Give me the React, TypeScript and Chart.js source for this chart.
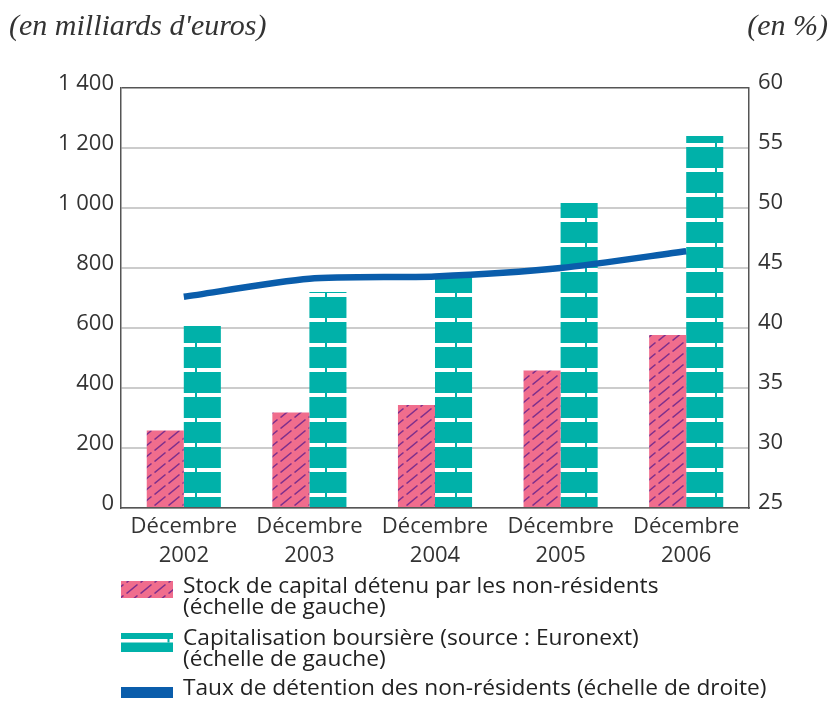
import React, { useEffect, useRef } from "react";
import { Chart, registerables } from "chart.js";

Chart.register(...registerables);

const categories: string[][] = [
  ["Décembre", "2002"],
  ["Décembre", "2003"],
  ["Décembre", "2004"],
  ["Décembre", "2005"],
  ["Décembre", "2006"],
];
const stockNonResidents: number[] = [258, 318, 343, 458, 577];
const capitalisation: number[] = [607, 720, 773, 1017, 1240];
const tauxDetention: number[] = [42.6, 44.1, 44.3, 45.0, 46.4];

const leftTicks = { min: 0, max: 1400, step: 200 };
const rightTicks = { min: 25, max: 60, step: 5 };

const legendLabels: string[][] = [
  ["Stock de capital détenu par les non-résidents", "(échelle de gauche)"],
  ["Capitalisation boursière (source : Euronext)", "(échelle de gauche)"],
  ["Taux de détention des non-résidents (échelle de droite)"],
];

const PINK = "#f06d8d";
const HATCH = "#7e2f8c";
const CYAN = "#00b1a9";
const BLUE = "#0a5dab";
const FONT = "'Open Sans', sans-serif";

function makeHatch(): CanvasPattern | string {
  const c = document.createElement("canvas");
  c.width = 14;
  c.height = 11;
  const g = c.getContext("2d");
  if (!g) return PINK;
  g.fillStyle = PINK;
  g.fillRect(0, 0, 14, 11);
  g.strokeStyle = HATCH;
  g.lineWidth = 1.6;
  g.beginPath();
  g.moveTo(0.5, 10.5);
  g.lineTo(11.5, 1.5);
  g.stroke();
  const p = g.createPattern(c, "repeat");
  return p || PINK;
}

function makeStripes(): CanvasPattern | string {
  const c = document.createElement("canvas");
  c.width = 65;
  c.height = 25;
  const g = c.getContext("2d");
  if (!g) return CYAN;
  g.fillStyle = CYAN;
  g.fillRect(0, 0, 65, 25);
  g.fillStyle = "#ffffff";
  g.fillRect(2, 18, 63, 4);
  const p = g.createPattern(c, "repeat");
  return p || CYAN;
}

const fmt = (v: number) => {
  const s = String(Math.round(v));
  return s.length > 3 ? s.slice(0, s.length - 3) + " " + s.slice(-3) : s;
};

export default function App() {
  const ref = useRef<HTMLCanvasElement | null>(null);

  useEffect(() => {
    document.body.style.margin = "0";
    const canvas = ref.current;
    if (!canvas) return;
    const hatch = makeHatch();
    const stripes = makeStripes();

    const legendSwatches = {
      id: "legendSwatches",
      afterDraw(chart: any) {
        const ctx = chart.ctx;
        ctx.save();
        ctx.fillStyle = hatch;
        ctx.fillRect(121, 581, 52, 17);
        ctx.fillStyle = CYAN;
        ctx.fillRect(121, 633, 52, 19);
        ctx.fillStyle = "#ffffff";
        ctx.fillRect(121, 639, 52, 3.5);
        ctx.fillStyle = CYAN;
        ctx.fillRect(167.5, 639, 2, 3.5);
        ctx.fillStyle = BLUE;
        ctx.fillRect(121, 687, 52, 11);
        ctx.restore();
      },
    };

    const chart = new Chart(canvas, {
      type: "bar",
      data: {
        labels: categories,
        datasets: [
          {
            type: "line",
            label: "Taux de détention des non-résidents (échelle de droite)",
            data: tauxDetention,
            yAxisID: "y1",
            borderColor: BLUE,
            borderWidth: 6.5,
            pointRadius: 0,
            tension: 0.25,
            order: 0,
          } as any,
          {
            label: "Stock de capital détenu par les non-résidents",
            data: stockNonResidents,
            yAxisID: "y",
            backgroundColor: hatch as any,
            borderWidth: 0,
            barPercentage: 1,
            categoryPercentage: 0.59,
            order: 1,
          },
          {
            label: "Capitalisation boursière (source : Euronext)",
            data: capitalisation,
            yAxisID: "y",
            backgroundColor: stripes as any,
            borderWidth: 0,
            barPercentage: 1,
            categoryPercentage: 0.59,
            order: 1,
          },
        ],
      },
      options: {
        responsive: false,
        animation: false,
        layout: { padding: { top: 88, left: 0, right: 0, bottom: 0 } },
        plugins: {
          legend: { display: false },
          tooltip: { enabled: false },
        },
        scales: {
          x: {
            grid: { display: false, drawTicks: false },
            border: { display: true, color: "#555555", width: 1.5 },
            ticks: {
              color: "#333333",
              font: { family: FONT, size: 22, lineHeight: 1.32 },
              padding: 4,
              maxRotation: 0,
            },
            afterFit: (s: any) => {
              s.height = 193;
            },
          },
          y: {
            position: "left",
            min: leftTicks.min,
            max: leftTicks.max,
            ticks: {
              stepSize: leftTicks.step,
              color: "#333333",
              font: { family: FONT, size: 22 },
              padding: 7,
              labelOffset: -4,
              callback: (v: any) => fmt(Number(v)),
            },
            grid: {
              drawTicks: false,
              color: (c: any) => (c.tick && c.tick.value === leftTicks.max ? "#555555" : "#cccccc"),
              lineWidth: (c: any) => (c.tick && c.tick.value === leftTicks.max ? 1.5 : 2),
            },
            border: { display: true, color: "#555555", width: 1.5 },
            afterFit: (s: any) => {
              s.width = 121;
            },
          },
          y1: {
            position: "right",
            min: rightTicks.min,
            max: rightTicks.max,
            ticks: {
              stepSize: rightTicks.step,
              color: "#333333",
              font: { family: FONT, size: 22 },
              padding: 9,
              labelOffset: -5,
            },
            grid: { drawOnChartArea: false, drawTicks: false },
            border: { display: true, color: "#555555", width: 1.5 },
            afterFit: (s: any) => {
              s.width = 83;
            },
          },
        },
      },
      plugins: [legendSwatches],
    });
    return () => chart.destroy();
  }, []);

  const legendTops = [574, 626, 676];

  return (
    <div style={{ position: "relative", width: 832, height: 701, overflow: "hidden", background: "#fff" }}>
      <canvas ref={ref} width={832} height={701} style={{ position: "absolute", left: 0, top: 0 }} />
      <div
        style={{
          position: "absolute",
          left: 9,
          top: 8,
          fontFamily: "'Liberation Serif', serif",
          fontStyle: "italic",
          fontSize: 30,
          color: "#333",
          whiteSpace: "nowrap",
        }}
      >
        (en milliards d'euros)
      </div>
      <div
        style={{
          position: "absolute",
          right: 4,
          top: 8,
          fontFamily: "'Liberation Serif', serif",
          fontStyle: "italic",
          fontSize: 30,
          color: "#333",
          whiteSpace: "nowrap",
        }}
      >
        (en %)
      </div>
      {legendLabels.map((lines, i) => (
        <div
          key={i}
          style={{
            position: "absolute",
            left: 183,
            top: legendTops[i],
            fontFamily: FONT,
            fontSize: 22.7,
            lineHeight: "21px",
            color: "#222",
            whiteSpace: "nowrap",
          }}
        >
          {lines.map((t, j) => (
            <div key={j}>{t}</div>
          ))}
        </div>
      ))}
    </div>
  );
}
